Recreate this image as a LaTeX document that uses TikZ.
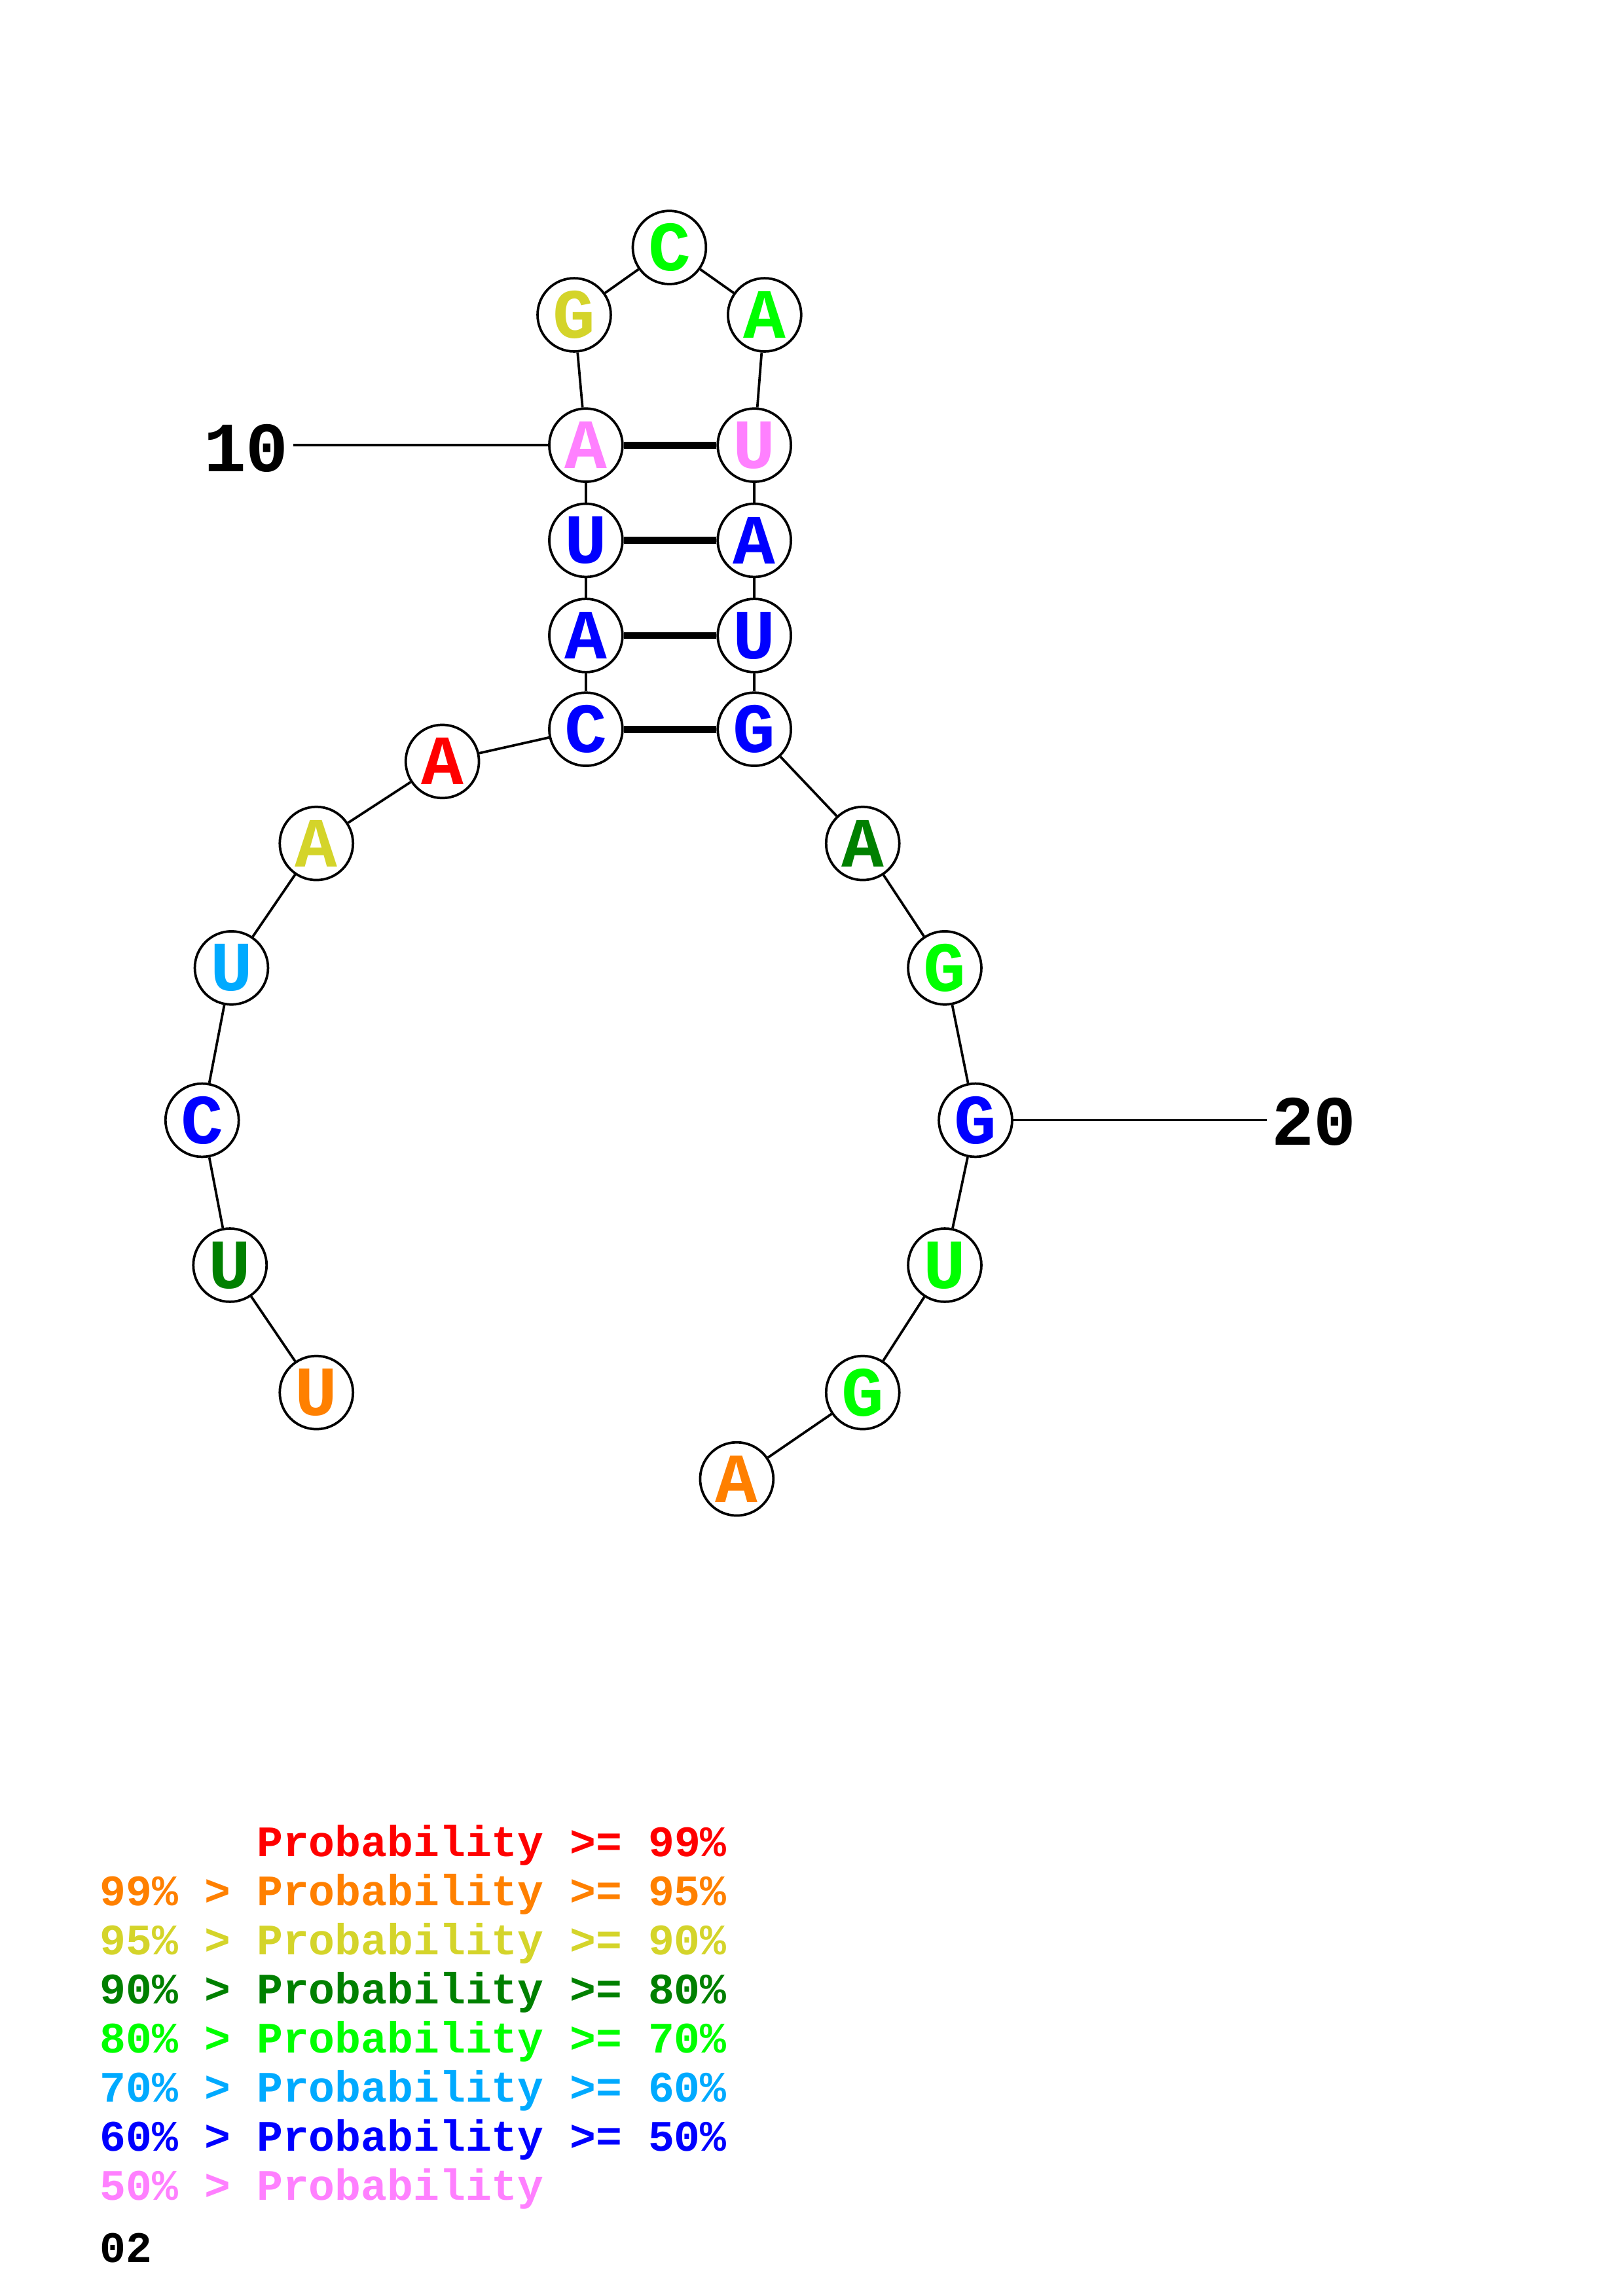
\documentclass[tikz,border=0pt]{standalone}
\usepackage{fontspec}
\setmainfont{Liberation Mono}
\usetikzlibrary{positioning}
\definecolor{pRed}{RGB}{255,0,0}
\definecolor{pOrange}{RGB}{255,128,0}
\definecolor{pYellow}{RGB}{212,212,42}
\definecolor{pDkGreen}{RGB}{0,128,0}
\definecolor{pGreen}{RGB}{0,255,0}
\definecolor{pCyan}{RGB}{0,170,255}
\definecolor{pBlue}{RGB}{0,0,255}
\definecolor{pPink}{RGB}{255,128,255}

\begin{document}
\begin{tikzpicture}[x=0.018941cm, y=-0.018941cm,
    nt/.style={circle, draw, line width=0.9pt, fill=white, minimum size=0.947cm, inner sep=0pt,
        font=\fontsize{26}{26}\selectfont\bfseries},
    bb/.style={line width=0.9pt},
    bp/.style={line width=2.6pt},
    lab/.style={inner sep=1.5pt, font=\fontsize{26}{26}\selectfont\bfseries},
    leg/.style={anchor=base west, inner sep=0pt, font=\fontsize{16}{16}\selectfont\bfseries}]
    \useasboundingbox (0,0) rectangle (1108,1568);

    % 5' tail
    \node[nt, text=pOrange] (n1) at (216, 951) {U};
    \node[nt, text=pDkGreen] (n2) at (157, 864) {U};
    \node[nt, text=pBlue] (n3) at (138, 765) {C};
    \node[nt, text=pCyan] (n4) at (158, 661) {U};
    \node[nt, text=pYellow] (n5) at (216, 576) {A};
    \node[nt, text=pRed] (n6) at (302, 520) {A};

    % Stem, left strand
    \node[nt, text=pBlue] (n7) at (400, 498) {C};
    \node[nt, text=pBlue] (n8) at (400, 434) {A};
    \node[nt, text=pBlue] (n9) at (400, 369) {U};
    \node[nt, text=pPink] (n10) at (400, 304) {A};

    % Loop
    \node[nt, text=pYellow] (n11) at (392, 215) {G};
    \node[nt, text=pGreen] (n12) at (457, 169) {C};
    \node[nt, text=pGreen] (n13) at (522, 215) {A};

    % Stem, right strand
    \node[nt, text=pPink] (n14) at (515, 304) {U};
    \node[nt, text=pBlue] (n15) at (515, 369) {A};
    \node[nt, text=pBlue] (n16) at (515, 434) {U};
    \node[nt, text=pBlue] (n17) at (515, 498) {G};

    % 3' tail
    \node[nt, text=pDkGreen] (n18) at (589, 576) {A};
    \node[nt, text=pGreen] (n19) at (645, 661) {G};
    \node[nt, text=pBlue] (n20) at (666, 765) {G};
    \node[nt, text=pGreen] (n21) at (645, 864) {U};
    \node[nt, text=pGreen] (n22) at (589, 951) {G};
    \node[nt, text=pOrange] (n23) at (503, 1010) {A};

    % Backbone
    \draw[bb] (n1) -- (n2);
    \draw[bb] (n2) -- (n3);
    \draw[bb] (n3) -- (n4);
    \draw[bb] (n4) -- (n5);
    \draw[bb] (n5) -- (n6);
    \draw[bb] (n6) -- (n7);
    \draw[bb] (n7) -- (n8);
    \draw[bb] (n8) -- (n9);
    \draw[bb] (n9) -- (n10);
    \draw[bb] (n10) -- (n11);
    \draw[bb] (n11) -- (n12);
    \draw[bb] (n12) -- (n13);
    \draw[bb] (n13) -- (n14);
    \draw[bb] (n14) -- (n15);
    \draw[bb] (n15) -- (n16);
    \draw[bb] (n16) -- (n17);
    \draw[bb] (n17) -- (n18);
    \draw[bb] (n18) -- (n19);
    \draw[bb] (n19) -- (n20);
    \draw[bb] (n20) -- (n21);
    \draw[bb] (n21) -- (n22);
    \draw[bb] (n22) -- (n23);

    % Base pairs
    \draw[bp] (n7) -- (n17);
    \draw[bp] (n8) -- (n16);
    \draw[bp] (n9) -- (n15);
    \draw[bp] (n10) -- (n14);

    % Position labels
    \node[lab] (lab10) at (168, 306) {10};
    \node[lab] (lab20) at (897, 766) {20};
    \draw[bb] (lab10.east |- n10) -- (n10);
    \draw[bb] (n20) -- (lab20.west |- n20);

    % Legend
    \node[leg, text=pRed] (leg1) at (68, 1268) {\hphantom{99\% > }Probability >= 99\%};
    \node[leg, text=pOrange] (leg2) at (68, 1301.5) {99\% > Probability >= 95\%};
    \node[leg, text=pYellow] (leg3) at (68, 1335) {95\% > Probability >= 90\%};
    \node[leg, text=pDkGreen] (leg4) at (68, 1368.5) {90\% > Probability >= 80\%};
    \node[leg, text=pGreen] (leg5) at (68, 1402) {80\% > Probability >= 70\%};
    \node[leg, text=pCyan] (leg6) at (68, 1435.5) {70\% > Probability >= 60\%};
    \node[leg, text=pBlue] (leg7) at (68, 1469) {60\% > Probability >= 50\%};
    \node[leg, text=pPink] (leg8) at (68, 1502.5) {50\% > Probability};
    \node[leg] (tag) at (68, 1545) {02};
\end{tikzpicture}
\end{document}
